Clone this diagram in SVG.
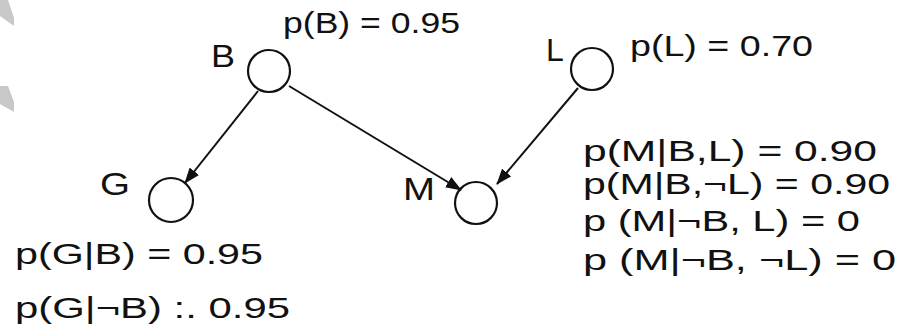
<svg xmlns="http://www.w3.org/2000/svg" width="906" height="329" viewBox="0 0 906 329">
<style>
.node{fill:none;stroke:#111;stroke-width:2.2}
.lbl{font-family:"Liberation Sans",Arial,sans-serif;font-size:32px;fill:#111}
.cpt{font-family:"Liberation Sans",Arial,sans-serif;font-size:30px;fill:#111}
.edge{stroke:#111;stroke-width:2;fill:none;marker-end:url(#ah)}
</style>
<defs>
<marker id="ah" markerWidth="16" markerHeight="12" refX="15" refY="6" orient="auto" markerUnits="userSpaceOnUse">
<path d="M0,0 L16,6 L0,12 Z" fill="#111"/>
</marker>
</defs>
<rect width="906" height="329" fill="#fff"/>
<polygon points="0,0 8,0 14,18 14,26 0,16" fill="#c8c8c8"/>
<polygon points="0,86 8,86 14,102 14,112 0,104" fill="#c8c8c8"/>
<g id="connectors">
<line class="edge" x1="258" y1="91" x2="185" y2="183"/>
<line class="edge" x1="289" y1="86" x2="461" y2="190"/>
<line class="edge" x1="578" y1="88" x2="497" y2="184"/>
</g>
<g id="node-B">
<circle class="node" cx="269" cy="71" r="21"/>
<text class="lbl" x="211" y="67" textLength="24" lengthAdjust="spacingAndGlyphs">B</text>
<text class="cpt" x="283" y="33" textLength="177" lengthAdjust="spacingAndGlyphs">p(B) = 0.95</text>
</g>
<g id="node-L">
<circle class="node" cx="592" cy="69" r="21"/>
<text class="lbl" x="546" y="61">L</text>
<text class="cpt" x="630" y="56" textLength="183" lengthAdjust="spacingAndGlyphs">p(L) = 0.70</text>
</g>
<g id="node-G">
<circle class="node" cx="171" cy="200" r="22"/>
<text class="lbl" x="100" y="195" textLength="30" lengthAdjust="spacingAndGlyphs">G</text>
<text class="cpt" x="15" y="264" textLength="248" lengthAdjust="spacingAndGlyphs">p(G|B) = 0.95</text>
<text class="cpt" x="15" y="318" textLength="275" lengthAdjust="spacingAndGlyphs">p(G|¬B) :. 0.95</text>
</g>
<g id="node-M">
<circle class="node" cx="476" cy="203" r="21"/>
<text class="lbl" x="403" y="200" textLength="32" lengthAdjust="spacingAndGlyphs">M</text>
<text class="cpt" x="583" y="161" textLength="294" lengthAdjust="spacingAndGlyphs">p(M|B,L) = 0.90</text>
<text class="cpt" x="583" y="194" textLength="307" lengthAdjust="spacingAndGlyphs">p(M|B,¬L) = 0.90</text>
<text class="cpt" x="583" y="231" textLength="277" lengthAdjust="spacingAndGlyphs">p (M|¬B, L) = 0</text>
<text class="cpt" x="583" y="270" textLength="313" lengthAdjust="spacingAndGlyphs">p (M|¬B, ¬L) = 0</text>
</g>
</svg>
